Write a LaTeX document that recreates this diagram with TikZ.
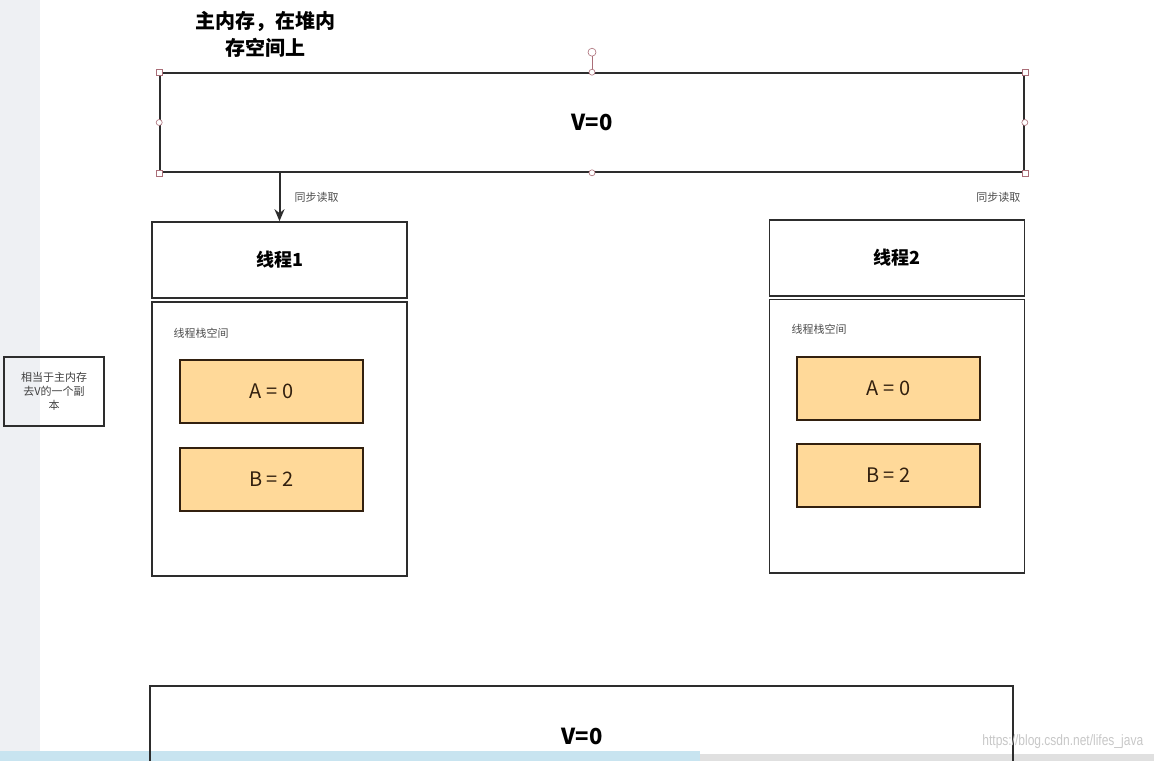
\documentclass[tikz,border=0pt]{standalone}
\usepackage{fontspec}
\setmainfont{Noto Sans CJK SC}
\newfontfamily\cjk{Noto Sans CJK SC}
\newfontfamily\wmfont{Liberation Sans}
\definecolor{edgegray}{RGB}{45,45,45}
\definecolor{varfill}{RGB}{255,217,153}
\definecolor{varedge}{RGB}{50,32,15}
\definecolor{handlered}{RGB}{170,110,120}
\definecolor{sidegray}{RGB}{238,240,243}
\definecolor{barblue}{RGB}{200,228,240}
\usetikzlibrary{arrows.meta,positioning,calc}

\begin{document}
\begin{tikzpicture}[x=1pt,y=-1pt,
  box/.style={draw=edgegray,line width=1.6pt,minimum width=255pt,font=\cjk,align=center},
  varbox/.style={draw=varedge,line width=1.4pt,fill=varfill,minimum width=183pt,minimum height=63pt,font=\cjk\fontsize{20}{23}\selectfont,text=varedge},
  small/.style={font=\cjk\fontsize{11}{14}\selectfont,text=black!70},
  handsq/.style={draw=handlered,fill=white,line width=0.6pt,minimum size=6pt,inner sep=0pt},
  handci/.style={draw=handlered,fill=white,line width=0.6pt,circle,minimum size=6pt,inner sep=0pt}]
  \useasboundingbox (0,0) rectangle (1154,761);
  % Window edges
  \fill[sidegray] (0,0) rectangle (40,761);
  \fill[barblue] (0,751) rectangle (700,761);
  \fill[black!12] (700,754) rectangle (1154,761);
  % Main memory
  \node[font=\cjk\bfseries\fontsize{20}{27}\selectfont,align=center] (title) at (265,34) {主内存，在堆内\\存空间上};
  \node[box,minimum width=864pt,minimum height=99pt,font=\cjk\bfseries\fontsize{22}{26}\selectfont] (mem) at (592,122.5) {V=0};
  % Selection handles
  \draw[handlered,line width=0.6pt] (mem.north) -- ++(0,-20) coordinate (rot);
  \node[handci,minimum size=8pt] (hrot) at (rot) {};
  \foreach \a [count=\i] in {north west,north east,south west,south east}
    \node[handsq] (hs\i) at (mem.\a) {};
  \foreach \a [count=\i] in {north,south,west,east}
    \node[handci] (hc\i) at (mem.\a) {};
  % Thread 1
  \node[box,minimum height=76pt,font=\cjk\bfseries\fontsize{18}{22}\selectfont] (t1head) at (279.5,260) {线程1};
  \node[box,minimum height=274pt] (t1body) at (279.5,439) {};
  \node[small,anchor=west] (t1stack) at (170,333) {线程栈空间};
  \node[varbox] (t1a) at (271.5,391.5) {A = 0};
  \node[varbox] (t1b) at (271.5,479.5) {B = 2};
  \draw[-{Stealth[length=12pt,width=10pt]},edgegray,line width=2pt] (t1head.north |- mem.south) -- (t1head.north);
  \node[small,anchor=west] (sync1) at (291,197) {同步读取};
  % Thread 2
  \node[box,minimum height=76pt,font=\cjk\bfseries\fontsize{18}{22}\selectfont] (t2head) at (897,258) {线程2};
  \node[box,minimum height=273.5pt] (t2body) at (897,436.25) {};
  \node[small,anchor=west] (t2stack) at (788,329) {线程栈空间};
  \node[varbox] (t2a) at (888.5,388.5) {A = 0};
  \node[varbox] (t2b) at (888.5,475.5) {B = 2};
  \node[small,anchor=east] (sync2) at (1024,197) {同步读取};
  % Note
  \node[draw=edgegray,line width=1.4pt,minimum width=100pt,minimum height=69pt,align=center,
    font=\cjk\fontsize{11}{14}\selectfont,text=black!75] (note) at (54,391.5) {相当于主内存\\去V的一个副\\本};
  % Copy at bottom
  \draw[edgegray,line width=1.6pt] (150,761) -- (150,686) -- (1013,686) -- (1013,761);
  \node[font=\cjk\bfseries\fontsize{22}{26}\selectfont] (mem2) at (582,736) {V=0};
  \node[font=\wmfont\fontsize{15}{18}\selectfont,text=black!22,anchor=east,xscale=0.8] (wm) at (1146,742) {https://blog.csdn.net/lifes\_java};
\end{tikzpicture}
\end{document}
